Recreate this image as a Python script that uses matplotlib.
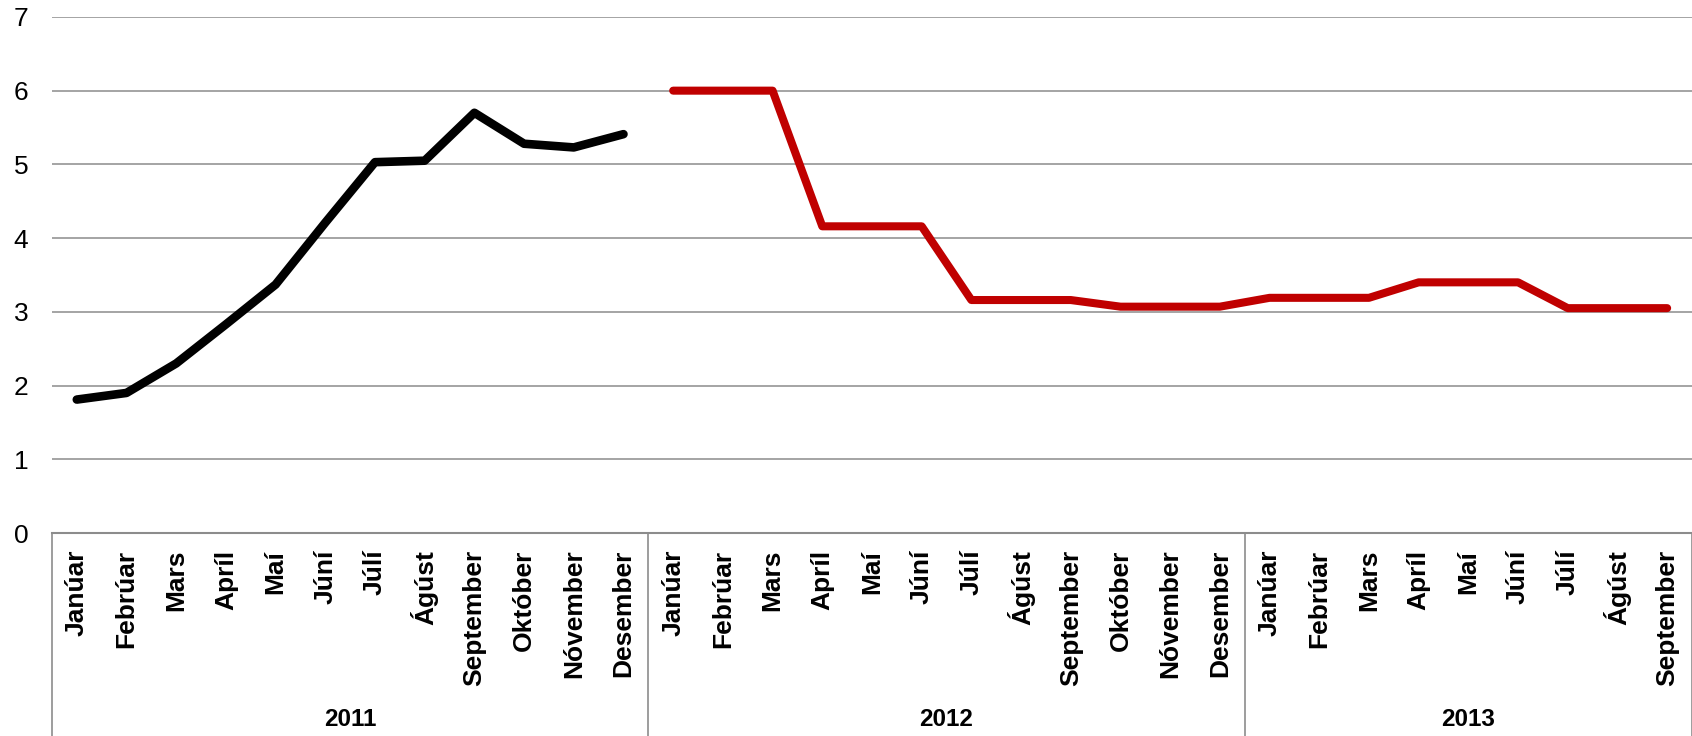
import numpy as np
import matplotlib
matplotlib.use("Agg")
import matplotlib.pyplot as plt
from matplotlib import transforms
from matplotlib.lines import Line2D

plt.rcParams['font.family'] = ['Liberation Sans', 'DejaVu Sans']

# manaðarheiti og ár
months = ["Janúar", "Febrúar", "Mars", "Apríl", "Maí", "Júní", "Júlí",
          "Ágúst", "September", "Október", "Nóvember", "Desember"]
years = ["2011", "2012", "2013"]
months_per_year = [12, 12, 9]

# gildi
vals_2011 = [1.81, 1.90, 2.30, 2.83, 3.37, 4.21, 5.03, 5.05, 5.70, 5.28, 5.23, 5.41]
vals_2012_2013 = [6.00, 6.00, 6.00, 4.16, 4.16, 4.16, 3.16, 3.16, 3.16, 3.07, 3.07, 3.07,
                  3.19, 3.19, 3.19, 3.40, 3.40, 3.40, 3.05, 3.05, 3.05]

labels = []
for n in months_per_year:
    labels += months[:n]
x_all = np.arange(len(labels))

fig = plt.figure(figsize=(16.92, 7.36), dpi=100)
ax = fig.add_axes([0.0307, 0.2758, 0.9693, 0.7012])

grid_col = "#8c8c8c"
for yv in range(1, 8):
    ax.axhline(yv, color=grid_col, lw=1.1, zorder=1)

ax.plot(x_all[:12], vals_2011, color="black", lw=6.2,
        solid_capstyle="round", solid_joinstyle="round", zorder=3)
ax.plot(x_all[12:], vals_2012_2013, color="#C00000", lw=5.8,
        solid_capstyle="round", solid_joinstyle="round", zorder=3)

ax.set_xlim(-0.5, len(labels) - 0.5)
ax.set_ylim(0, 7)
ax.set_yticks(range(0, 8))
ax.tick_params(axis="y", length=0, pad=17, labelsize=19)
ax.set_xticks(x_all)
ax.set_xticklabels(labels, rotation=90, fontweight="bold", fontsize=19, va="top")
ax.tick_params(axis="x", length=0, pad=12)

for s in ["top", "right", "left"]:
    ax.spines[s].set_visible(False)
ax.spines["bottom"].set_color(grid_col)
ax.spines["bottom"].set_linewidth(1.5)

# ár og skil milli ára
trans = transforms.blended_transform_factory(ax.transData, ax.transAxes)
start = 0
bounds = [-0.5]
for yr, n in zip(years, months_per_year):
    ax.text(start + (n - 1) / 2, -0.362, yr, transform=trans, ha="center", va="center",
            fontsize=17.5, fontweight="bold")
    start += n
    bounds.append(start - 0.5)
for b in bounds:
    ax.add_line(Line2D([b, b], [0, -0.45], transform=trans, color=grid_col,
                       lw=1.2, clip_on=False))

fig.savefig("out.png", dpi=100)
